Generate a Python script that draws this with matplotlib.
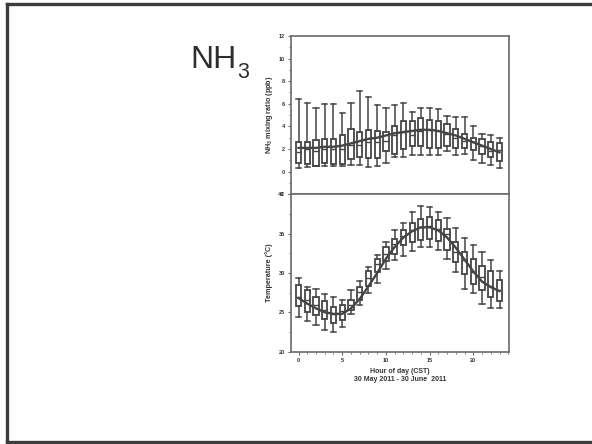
import matplotlib as mpl
import matplotlib.pyplot as plt
from matplotlib.lines import Line2D
from matplotlib.ticker import MultipleLocator

mpl.rcParams.update({
    "font.family": ["Liberation Sans", "DejaVu Sans"],
    "mathtext.fontset": "custom",
    "mathtext.rm": "Liberation Sans:bold",
    "mathtext.it": "Liberation Sans:bold",
    "mathtext.bf": "Liberation Sans:bold",
})

# ── Data ──────────────────────────────────────────────────
hours = list(range(24))

# NH3 mixing ratio (ppb): whisker low, Q1, median, Q3, whisker high
nh3_lo  = [0.3, 0.4, 0.5, 0.5, 0.5, 0.5, 0.6, 0.6, 0.4, 0.5, 0.8, 1.3,
           1.3, 1.5, 1.5, 1.5, 1.5, 1.8, 1.5, 1.6, 1.0, 0.8, 0.6, 0.3]
nh3_q1  = [0.8, 0.7, 0.5, 0.8, 0.7, 0.7, 1.1, 1.3, 1.2, 1.2, 1.8, 1.6,
           2.0, 2.3, 2.3, 2.1, 2.1, 2.3, 2.1, 2.1, 1.9, 1.6, 1.3, 0.9]
nh3_med = [1.7, 2.0, 1.8, 2.0, 2.0, 2.0, 2.4, 2.4, 2.6, 2.6, 2.7, 3.2,
           3.5, 3.2, 3.6, 3.7, 3.6, 3.3, 3.0, 2.7, 2.6, 2.3, 1.8, 1.9]
nh3_q3  = [2.6, 2.6, 2.8, 2.9, 2.9, 3.2, 3.8, 3.5, 3.7, 3.6, 3.5, 4.0,
           4.5, 4.5, 4.7, 4.6, 4.5, 4.2, 3.8, 3.3, 3.0, 2.9, 2.6, 2.5]
nh3_hi  = [6.4, 6.1, 5.6, 6.0, 6.0, 5.2, 6.1, 7.1, 6.6, 5.9, 5.6, 5.9,
           6.1, 5.3, 5.6, 5.6, 5.5, 4.9, 4.8, 4.8, 4.0, 3.3, 3.2, 3.0]
nh3_fit = [2.1, 2.1, 2.1, 2.2, 2.2, 2.3, 2.5, 2.7, 2.9, 3.0, 3.2, 3.4,
           3.5, 3.6, 3.7, 3.7, 3.6, 3.4, 3.2, 2.9, 2.6, 2.3, 2.0, 1.7]

# Temperature (°C)
t_lo  = [24.4, 23.9, 23.4, 22.7, 22.5, 23.1, 24.8, 25.9, 27.4, 28.7, 30.5, 31.6,
         32.2, 32.8, 33.3, 33.3, 32.9, 31.8, 30.1, 27.9, 27.4, 26.1, 25.5, 25.6]
t_q1  = [25.8, 25.1, 24.6, 24.2, 23.7, 24.0, 25.3, 26.5, 28.4, 30.1, 31.5, 32.4,
         33.5, 33.9, 34.2, 34.3, 34.1, 32.9, 31.4, 29.9, 28.6, 27.8, 27.0, 26.4]
t_med = [27.0, 26.5, 25.9, 25.3, 24.8, 25.2, 25.9, 27.6, 29.4, 31.2, 32.4, 33.7,
         34.7, 35.5, 35.9, 36.0, 35.6, 34.9, 32.6, 31.6, 30.1, 29.5, 28.4, 27.8]
t_q3  = [28.5, 27.8, 26.9, 26.4, 25.7, 25.9, 26.5, 28.2, 30.3, 31.8, 33.3, 34.3,
         35.4, 36.3, 36.8, 37.1, 36.7, 35.6, 33.9, 32.6, 31.8, 30.9, 30.3, 29.1]
t_hi  = [29.3, 28.2, 27.9, 27.3, 26.9, 26.6, 27.8, 29.0, 30.8, 32.3, 33.9, 35.4,
         36.4, 37.7, 38.5, 38.4, 37.8, 37.0, 35.7, 34.4, 33.5, 32.6, 31.6, 30.3]
t_fit = [26.8, 26.1, 25.5, 25.0, 24.8, 24.8, 25.5, 26.7, 28.3, 30.0, 31.8, 33.3,
         34.5, 35.3, 35.8, 35.8, 35.4, 34.5, 33.2, 31.7, 30.2, 28.9, 28.2, 27.7]

INK = "#454545"
SPINE = "#6a6a6a"
LAB = "#333333"


def stats(lo, q1, med, q3, hi):
    return [dict(whislo=a, q1=b, med=c, q3=d, whishi=e, fliers=[])
            for a, b, c, d, e in zip(lo, q1, med, q3, hi)]


def draw_boxes(ax, st, fit):
    ax.bxp(st, positions=hours, widths=0.6, showfliers=False, patch_artist=True,
           boxprops=dict(facecolor="white", edgecolor=INK, linewidth=1.3),
           medianprops=dict(color=INK, linewidth=1.0),
           whiskerprops=dict(color=INK, linewidth=1.1),
           capprops=dict(color=INK, linewidth=1.1), capwidths=0.6,
           manage_ticks=False)
    ax.plot(hours, fit, color=INK, linewidth=1.7, zorder=4)
    ax.set_xlim(-0.9, 24.1)
    for s in ax.spines.values():
        s.set_color(SPINE)
        s.set_linewidth(1.2)
    ax.tick_params(axis="both", which="both", direction="out", color=SPINE,
                   labelsize=4.0, labelcolor=LAB, pad=1.8)
    ax.tick_params(which="major", length=2.5, width=0.8)
    ax.tick_params(which="minor", length=1.5, width=0.6)
    ax.xaxis.set_major_locator(MultipleLocator(5))
    ax.xaxis.set_minor_locator(MultipleLocator(1))


fig = plt.figure(figsize=(5.92, 4.44), dpi=100, facecolor="white")

# slide frame (top, left, bottom edges of the scan)
frame = dict(transform=fig.transFigure, color="#3a3d3a", linewidth=2.4)
fig.add_artist(Line2D([0.011, 1.0], [0.992, 0.992], **frame))
fig.add_artist(Line2D([0.011, 0.011], [0.004, 0.992], **frame))
fig.add_artist(Line2D([0.011, 1.0], [0.004, 0.004], **frame))

fig.text(0.321, 0.847, "NH", fontsize=23, color="#2e2e2e",
         ha="left", va="baseline")
fig.text(0.4, 0.825, "3", fontsize=15.5, color="#2e2e2e",
         ha="left", va="baseline")

ax1 = fig.add_axes([0.491, 0.5625, 0.369, 0.3565])
ax2 = fig.add_axes([0.491, 0.208, 0.369, 0.3545])

draw_boxes(ax1, stats(nh3_lo, nh3_q1, nh3_med, nh3_q3, nh3_hi), nh3_fit)
ax1.set_ylim(-2, 12)
ax1.set_yticks([-2, 0, 2, 4, 6, 8, 10, 12])
ax1.yaxis.set_minor_locator(MultipleLocator(1))
ax1.set_yticklabels(["-2", "0", "2", "4", "6", "8", "10", "12"], fontweight="bold")
ax1.tick_params(axis="x", labelbottom=False)
ax1.set_ylabel(r"NH$_3$ mixing ratio (ppb)", fontsize=5.2, fontweight="bold",
               color=LAB, labelpad=2.5)

draw_boxes(ax2, stats(t_lo, t_q1, t_med, t_q3, t_hi), t_fit)
ax2.set_ylim(20, 40)
ax2.set_yticks([20, 25, 30, 35, 40])
ax2.yaxis.set_minor_locator(MultipleLocator(2.5))
ax2.set_yticklabels(["20", "25", "30", "35", "40"], fontweight="bold")
ax2.set_xticks([0, 5, 10, 15, 20])
ax2.set_xticklabels(["0", "5", "10", "15", "20"], fontweight="bold")
ax2.set_ylabel("Temperature (°C)", fontsize=5.2, fontweight="bold",
               color=LAB, labelpad=4)
ax2.set_xlabel("Hour of day (CST)\n30 May 2011 - 30 June  2011", fontsize=5.0,
               fontweight="bold", color=LAB, labelpad=4, linespacing=1.2)

fig.savefig("out.png", dpi=100, facecolor="white")
